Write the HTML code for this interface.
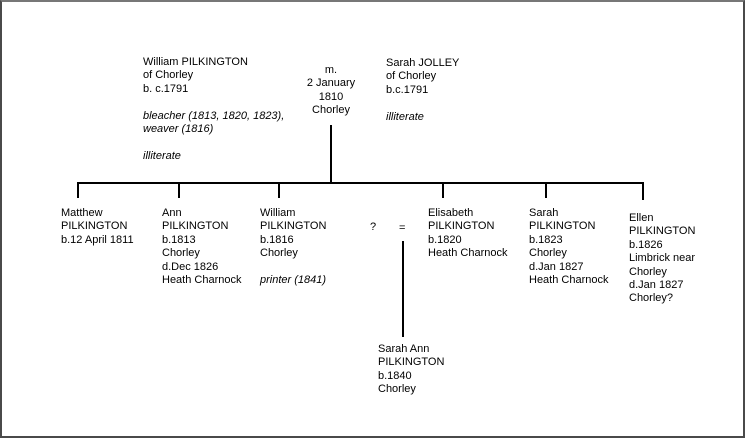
<!DOCTYPE html>
<html><head><meta charset="utf-8">
<style>
html,body{margin:0;padding:0;background:#fff;}
body{width:745px;height:438px;position:relative;overflow:hidden;font-family:"Liberation Sans",Arial,sans-serif;font-size:11px;line-height:13.4px;color:#000;}
.frame{position:absolute;left:0;top:0;width:741px;height:434px;border:2px solid #4a4a4a;border-top-color:#777;}
.t{position:absolute;white-space:nowrap;}
.l{position:absolute;background:#000;}
i{font-style:italic;}
</style></head><body>
<div class="frame"></div>

<div class="t" style="left:143px;top:56px;">William PILKINGTON<br>of Chorley<br>b. c.1791<br><br><i>bleacher (1813, 1820, 1823),</i><br><i>weaver (1816)</i><br><br><i>illiterate</i></div>

<div class="t" style="left:291px;top:64px;width:80px;text-align:center;">m.<br>2 January<br>1810<br>Chorley</div>

<div class="t" style="left:386px;top:57px;">Sarah JOLLEY<br>of Chorley<br>b.c.1791<br><br><i>illiterate</i></div>

<!-- lines -->
<div class="l" style="left:330px;top:125px;width:2px;height:59px;"></div>
<div class="l" style="left:77px;top:182px;width:567px;height:2px;"></div>
<div class="l" style="left:77px;top:182px;width:2px;height:16px;"></div>
<div class="l" style="left:178px;top:182px;width:2px;height:16px;"></div>
<div class="l" style="left:278px;top:182px;width:2px;height:16px;"></div>
<div class="l" style="left:442px;top:182px;width:2px;height:16px;"></div>
<div class="l" style="left:545px;top:182px;width:2px;height:16px;"></div>
<div class="l" style="left:642px;top:182px;width:2px;height:18px;"></div>
<div class="l" style="left:402px;top:241px;width:2px;height:96px;"></div>

<div class="t" style="left:61px;top:207px;">Matthew<br>PILKINGTON<br>b.12 April 1811</div>
<div class="t" style="left:162px;top:207px;">Ann<br>PILKINGTON<br>b.1813<br>Chorley<br>d.Dec 1826<br>Heath Charnock</div>
<div class="t" style="left:260px;top:207px;">William<br>PILKINGTON<br>b.1816<br>Chorley<br><br><i>printer (1841)</i></div>
<div class="t" style="left:370px;top:221px;">?</div>
<div class="t" style="left:399px;top:222px;">=</div>
<div class="t" style="left:428px;top:207px;">Elisabeth<br>PILKINGTON<br>b.1820<br>Heath Charnock</div>
<div class="t" style="left:529px;top:207px;">Sarah<br>PILKINGTON<br>b.1823<br>Chorley<br>d.Jan 1827<br>Heath Charnock</div>
<div class="t" style="left:629px;top:212px;">Ellen<br>PILKINGTON<br>b.1826<br>Limbrick near<br>Chorley<br>d.Jan 1827<br>Chorley?</div>

<div class="t" style="left:378px;top:343px;">Sarah Ann<br>PILKINGTON<br>b.1840<br>Chorley</div>
</body></html>
